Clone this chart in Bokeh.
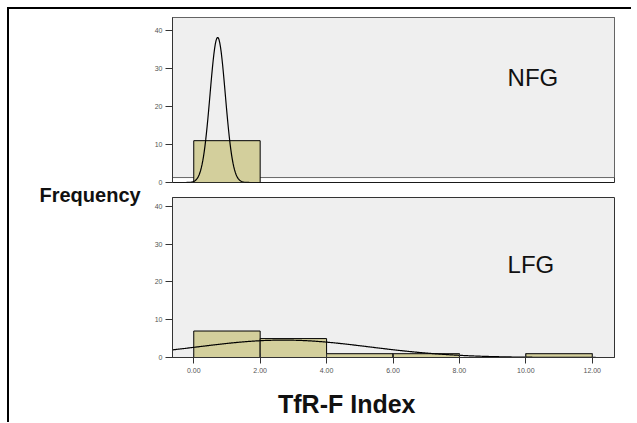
import numpy as np
from bokeh.plotting import figure
from bokeh.layouts import column, row
from bokeh.models import Range1d, FixedTicker, Label, NumeralTickFormatter
from bokeh.core.properties import value
from bokeh.embed import file_html
from bokeh.resources import INLINE

# ---------------- data ----------------
group_names = ["NFG", "LFG"]
nfg_left = [0]
nfg_right = [2]
nfg_counts = [11]
lfg_left = [0, 2, 4, 6, 10]
lfg_right = [2, 4, 6, 8, 12]
lfg_counts = [7, 5, 1, 1, 1]
bin_width = 2
# normal-curve fit parameters (mean, sd, N)
nfg_mean, nfg_sd, nfg_n = 0.72, 0.23, 11
lfg_mean, lfg_sd, lfg_n = 2.7, 2.6, 15
x_ticks = [0, 2, 4, 6, 8, 10, 12]
y_ticks = [0, 10, 20, 30, 40]
x_title = "TfR-F Index"
y_title = "Frequency"

X0, X1 = -0.64, 12.67
FONT = "Liberation Sans"
BAR = "#d3cf9c"
BG = "#efefef"
EDGE = "#333333"
LEFT_W = 140
PANEL_W = 482


def normal_curve(mean, sd, n):
    xs = np.linspace(X0, X1, 600)
    ys = n * bin_width * np.exp(-0.5 * ((xs - mean) / sd) ** 2) / (sd * np.sqrt(2 * np.pi))
    return xs, ys


def style_y(p):
    ax = p.yaxis[0]
    ax.ticker = FixedTicker(ticks=y_ticks)
    ax.minor_tick_line_color = None
    ax.major_tick_in = 0
    ax.major_tick_out = 7
    ax.major_tick_line_color = EDGE
    ax.axis_line_color = EDGE
    ax.major_label_text_font = FONT
    ax.major_label_text_font_size = "7px"
    ax.major_label_text_color = "#555555"
    ax.major_label_standoff = 3


def blank(w, h):
    f = figure(width=w, height=h, x_range=Range1d(0, w), y_range=Range1d(0, h),
               title=None, x_axis_location=None, y_axis_location=None, output_backend="svg",
               toolbar_location=None, min_border_left=0, min_border_right=0,
               min_border_top=0, min_border_bottom=0)
    f.outline_line_color = None
    f.grid.visible = False
    f.background_fill_color = "white"
    f.border_fill_color = "white"
    return f


# ---------------- left strip with the y title ----------------
left_h = 413
pl = blank(LEFT_W, left_h)
pl.text(x=[30], y=[left_h - 185], text=[y_title], text_font=value(FONT),
        text_font_size="20px", text_font_style="bold", text_color="#111111",
        text_baseline="alphabetic", text_align="left")

# ---------------- top panel (NFG) ----------------
top_max = 43.4
p1 = figure(width=PANEL_W, height=178, x_range=Range1d(X0, X1), y_range=Range1d(0, top_max),
            title=None, x_axis_location=None, output_backend="svg", toolbar_location=None,
            min_border_left=23, min_border_right=17, min_border_top=8, min_border_bottom=5)
p1.background_fill_color = "white"
p1.border_fill_color = "white"
p1.outline_line_color = EDGE
p1.grid.visible = False
style_y(p1)
p1.quad(left=[X0], right=[X1], bottom=[1.3], top=[top_max], fill_color=BG,
        line_color="#666666", line_width=1)
p1.quad(left=nfg_left, right=nfg_right, bottom=0, top=nfg_counts,
        fill_color=BAR, line_color="black", line_width=1)
xs, ys = normal_curve(nfg_mean, nfg_sd, nfg_n)
p1.line(xs, ys, line_color="black", line_width=1.2)
p1.add_layout(Label(x=9.45, y=24, text=group_names[0], text_font=FONT,
                    text_font_size="24px", text_color="#111111"))

# ---------------- bottom panel (LFG) ----------------
bot_max = 42.3
p2 = figure(width=PANEL_W, height=192, x_range=Range1d(X0, X1), y_range=Range1d(0, bot_max),
            title=None, output_backend="svg", toolbar_location=None,
            min_border_left=23, min_border_right=17, min_border_top=10, min_border_bottom=22)
p2.background_fill_color = BG
p2.border_fill_color = "white"
p2.outline_line_color = EDGE
p2.grid.visible = False
style_y(p2)
xa = p2.xaxis[0]
xa.ticker = FixedTicker(ticks=x_ticks)
xa.formatter = NumeralTickFormatter(format="0.00")
xa.minor_tick_line_color = None
xa.major_tick_in = 4
xa.major_tick_out = 6
xa.major_tick_line_color = EDGE
xa.axis_line_color = EDGE
xa.major_label_text_font = FONT
xa.major_label_text_font_size = "7px"
xa.major_label_text_color = "#555555"
xa.major_label_standoff = 4
p2.quad(left=lfg_left, right=lfg_right, bottom=0, top=lfg_counts,
        fill_color=BAR, line_color="black", line_width=1)
xs, ys = normal_curve(lfg_mean, lfg_sd, lfg_n)
p2.line(xs, ys, line_color="black", line_width=1.2)
p2.add_layout(Label(x=9.45, y=21.0, text=group_names[1], text_font=FONT,
                    text_font_size="24px", text_color="#111111"))

# ---------------- bottom strip with the x title ----------------
p3 = blank(PANEL_W, 43)
p3.text(x=[190], y=[19], text=[x_title], text_font=value(FONT),
        text_font_size="25px", text_font_style="bold", text_color="#111111",
        text_baseline="alphabetic", text_align="center")

layout = row(pl, column(p1, p2, p3, spacing=0), spacing=0,
             styles={"border-top": "2px solid black", "border-left": "2px solid black",
                     "margin-left": "7px", "margin-top": "7px"})

open("out.html", "w").write(file_html(layout, INLINE))
